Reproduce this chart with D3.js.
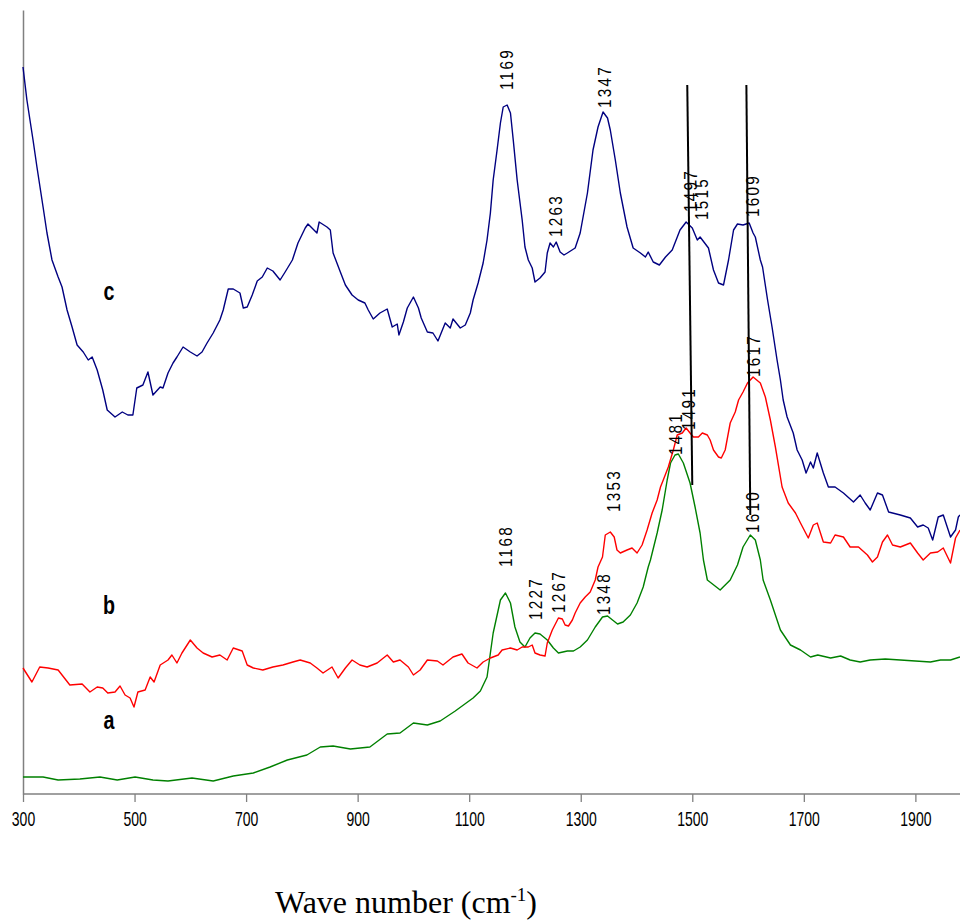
<!DOCTYPE html>
<html>
<head>
<meta charset="utf-8">
<script src="https://cdn.jsdelivr.net/npm/d3@7"></script>
<style>
  html, body { margin: 0; padding: 0; background: #fff; }
  svg { display: block; }
</style>
</head>
<body>
<svg id="chart" width="960" height="920"></svg>
<script>
// ---------------- DATA ----------------
// Raman spectra: wavenumber (cm-1) and intensity (arbitrary units, offset traces)
const xTicks = [300, 500, 700, 900, 1100, 1300, 1500, 1700, 1900];

// trace c (navy)
const cWave = [300,307,318,325,336,343,352,363,370,379,388,397,408,417,424,433,443,451,465,478,488,497,504,515,524,533,546,551,560,569,576,587,600,612,621,630,641,653,659,668,677,689,695,702,711,720,729,738,748,761,770,783,793,806,811,827,831,845,851,856,869,878,890,901,913,919,928,940,953,962,971,974,982,989,1000,1009,1014,1025,1035,1044,1057,1066,1071,1084,1093,1102,1107,1116,1125,1132,1138,1143,1150,1156,1161,1168,1174,1179,1186,1195,1200,1206,1213,1218,1227,1236,1240,1245,1251,1256,1263,1270,1276,1290,1299,1312,1322,1331,1340,1348,1353,1362,1371,1383,1394,1407,1416,1421,1430,1441,1452,1464,1478,1489,1500,1509,1514,1529,1538,1547,1556,1565,1574,1581,1591,1602,1609,1613,1622,1626,1635,1643,1652,1658,1663,1670,1681,1688,1697,1704,1712,1717,1724,1735,1744,1756,1771,1789,1801,1810,1819,1832,1841,1852,1873,1891,1904,1914,1923,1931,1941,1950,1963,1972,1977,1980];
const cInt  = [727,694,654,627,587,561,534,517,507,484,467,449,442,434,437,424,404,384,377,382,379,379,406,409,422,399,407,406,421,431,437,447,442,438,442,451,461,474,484,505,505,501,486,487,499,513,517,526,523,514,522,534,551,566,570,561,572,567,564,541,522,509,499,494,491,484,475,481,485,467,470,459,472,486,497,486,476,462,461,453,471,466,475,466,469,481,494,511,531,554,581,614,644,671,687,689,681,654,614,574,547,534,526,512,516,522,541,551,547,552,542,539,541,546,561,601,644,667,682,676,664,634,601,567,546,541,537,542,532,529,537,544,564,572,566,554,557,546,524,511,509,534,564,570,569,571,561,557,534,527,494,467,434,414,394,377,361,344,334,321,332,326,341,321,307,307,301,292,299,291,284,301,299,282,279,276,267,269,266,254,277,279,257,264,277,279];

// trace b (red)
const bWave = [300,316,330,345,363,384,406,420,433,443,452,465,474,483,492,499,506,519,528,535,546,560,567,576,585,600,612,623,639,653,666,677,693,702,713,730,748,766,784,797,815,827,838,854,865,878,890,904,917,935,953,964,976,991,1000,1012,1025,1043,1053,1071,1087,1098,1114,1125,1138,1152,1159,1174,1186,1195,1206,1213,1218,1227,1236,1240,1249,1260,1267,1272,1278,1285,1290,1299,1308,1317,1326,1331,1339,1344,1353,1360,1365,1371,1383,1392,1401,1410,1419,1428,1437,1443,1448,1457,1466,1473,1482,1489,1496,1502,1511,1518,1527,1532,1538,1547,1552,1559,1568,1577,1583,1591,1599,1609,1622,1631,1640,1649,1661,1672,1685,1694,1708,1717,1724,1735,1748,1756,1771,1783,1798,1814,1823,1832,1841,1850,1859,1873,1891,1904,1914,1927,1940,1950,1963,1972,1980];
const bInt  = [126,112,127,126,124,109,110,102,107,106,101,102,108,99,96,87,102,104,117,112,129,134,139,131,141,154,146,141,137,139,134,146,143,129,126,124,127,129,132,134,131,126,121,127,116,126,134,129,127,131,139,132,134,127,119,124,134,133,129,137,140,131,126,132,136,139,144,146,144,147,147,149,141,139,138,151,164,176,175,169,168,174,181,191,197,202,214,227,237,259,262,257,244,241,244,246,241,249,264,281,294,307,314,327,344,359,361,366,361,357,357,361,359,354,344,337,336,344,371,382,394,402,411,417,411,397,374,347,307,291,281,271,256,269,271,252,251,259,257,247,247,239,232,237,252,259,249,247,251,241,234,241,242,246,231,256,264];

// trace a (green)
const aWave = [300,336,363,402,438,469,501,533,560,603,641,677,713,743,774,809,833,856,887,922,953,976,1000,1025,1048,1075,1107,1120,1132,1143,1156,1165,1174,1182,1191,1200,1209,1218,1227,1240,1251,1260,1276,1287,1299,1312,1326,1339,1348,1357,1366,1376,1389,1401,1412,1421,1425,1437,1446,1455,1461,1469,1475,1484,1496,1505,1514,1520,1527,1550,1568,1581,1591,1604,1613,1622,1627,1640,1658,1676,1694,1712,1725,1748,1766,1783,1801,1819,1846,1873,1900,1927,1945,1963,1980];
const aInt  = [17,17,14,15,17,14,17,14,13,16,13,18,21,27,34,39,47,48,45,47,60,61,71,69,73,83,96,103,117,161,194,201,191,167,152,147,156,161,160,154,146,141,143,143,147,154,167,177,178,174,170,172,179,191,207,227,234,261,284,314,331,339,340,331,311,287,261,234,214,204,214,229,247,259,254,234,214,194,164,149,144,137,139,136,138,134,132,134,135,134,133,132,134,134,137];

// peak annotations: label text, wavenumber and intensity of the label foot
const peakText = ["1169","1347","1263","1497","1515","1609","1617","1491","1481","1353","1610","1168","1227","1267","1348"];
const peakWave = [1166,1342,1254,1496,1516,1608,1609,1493,1469,1358,1608,1165,1218,1260,1340];
const peakInt  = [704,686,557,582,574,577,417,364,339,282,261,227,174,181,179];

// black guide lines (wavenumber / intensity of both ends)
const guideWave1 = [1491, 1597];
const guideWave2 = [1500, 1604];
const guideInt1  = [709, 709];
const guideInt2  = [309, 279];

// trace letters
const traceNames = ["c", "b", "a"];
const traceNameWave = [454, 454, 454];
const traceNameInt  = [494, 180, 65];

// ---------------- DRAW ----------------
const svg = d3.select("#chart");
const x = d3.scaleLinear().domain([300, 1980]).range([23, 960]);
const y = d3.scaleLinear().domain([0, 784]).range([794, 10]);

const axisColor = "#808080";
const tickFont = "'Liberation Sans',Arial,sans-serif";

// axes
const xAxis = svg.append("g")
  .attr("transform", `translate(0,${y(0)})`)
  .call(d3.axisBottom(x).tickValues(xTicks).tickSize(8).tickPadding(10).tickFormat(d3.format("d")));
xAxis.select(".domain").attr("stroke", axisColor).attr("stroke-width", 1.5).attr("d", `M${x(300)},0H${x(1980)}`);
xAxis.selectAll(".tick line").attr("stroke", axisColor).attr("stroke-width", 1.3);
xAxis.selectAll(".tick text")
  .attr("font-family", tickFont).attr("font-size", 20).attr("fill", "#000")
  .attr("transform", "scale(0.7,1)");

const yAxis = svg.append("g")
  .attr("transform", `translate(${x(300)},0)`)
  .call(d3.axisLeft(y).tickValues([]).tickSize(0));
yAxis.select(".domain").attr("stroke", axisColor).attr("stroke-width", 1.5);

// traces
const line = d3.line().x(d => x(d[0])).y(d => y(d[1]));
const traces = [
  {w: aWave, v: aInt, color: "#008000"},
  {w: bWave, v: bInt, color: "#ff0000"},
  {w: cWave, v: cInt, color: "#000080"}
];
svg.append("g").selectAll("path").data(traces).join("path")
  .attr("d", t => line(t.w.map((w, i) => [w, t.v[i]])))
  .attr("fill", "none")
  .attr("stroke", t => t.color)
  .attr("stroke-width", 1.4)
  .attr("stroke-linejoin", "round");

// guide lines
svg.append("g").selectAll("line").data(guideWave1).join("line")
  .attr("x1", (d, i) => x(guideWave1[i]))
  .attr("y1", (d, i) => y(guideInt1[i]))
  .attr("x2", (d, i) => x(guideWave2[i]))
  .attr("y2", (d, i) => y(guideInt2[i]))
  .attr("stroke", "#000").attr("stroke-width", 2);

// peak labels
svg.append("g").selectAll("text").data(peakText).join("text")
  .attr("transform", (d, i) => `translate(${x(peakWave[i])},${y(peakInt[i])}) rotate(-90) scale(0.9,1.1)`)
  .attr("dy", "0.36em")
  .attr("font-family", tickFont)
  .attr("font-size", 17)
  .attr("letter-spacing", 2.5)
  .attr("fill", "#000")
  .text(d => d);

// trace letters
svg.append("g").selectAll("text").data(traceNames).join("text")
  .attr("transform", (d, i) => `translate(${x(traceNameWave[i])},${y(traceNameInt[i])}) scale(0.82,1.05)`)
  .attr("text-anchor", "middle")
  .attr("font-family", tickFont)
  .attr("font-weight", "bold")
  .attr("font-size", 24)
  .attr("fill", "#000")
  .text(d => d);

// axis title
const title = svg.append("text")
  .attr("x", 406).attr("y", 913)
  .attr("text-anchor", "middle")
  .attr("font-family", "'Liberation Serif','Times New Roman',serif")
  .attr("font-size", 32)
  .attr("fill", "#000");
title.append("tspan").text("Wave number (cm");
title.append("tspan").attr("dy", -12).attr("font-size", 19).text("-1");
title.append("tspan").attr("dy", 12).text(")");
</script>
</body>
</html>
